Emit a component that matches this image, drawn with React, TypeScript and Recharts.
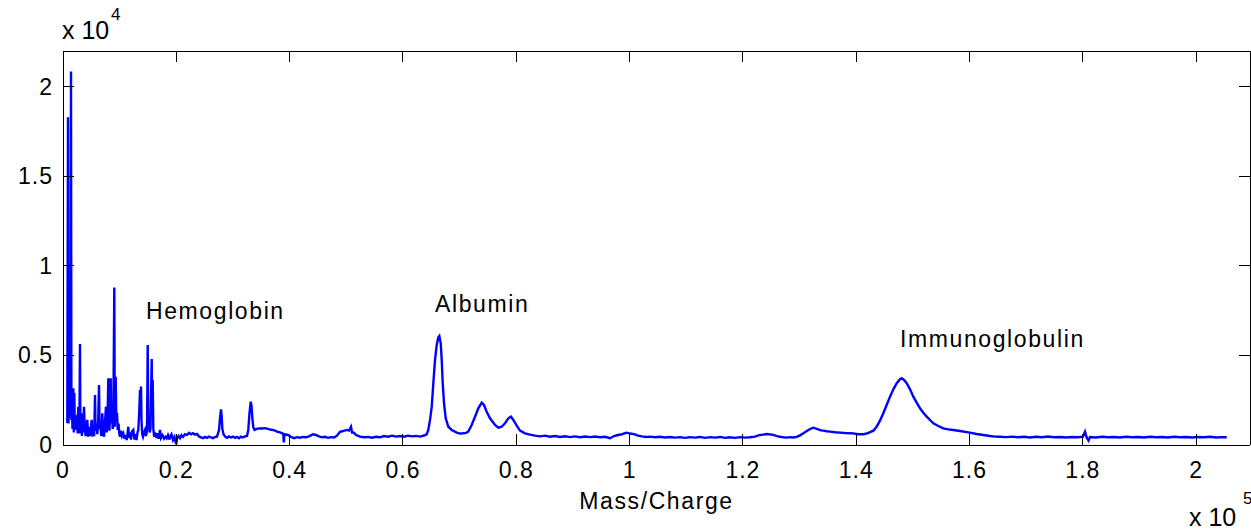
import React from 'react';
import { LineChart, Line, XAxis, YAxis, ReferenceDot } from 'recharts';

// mass/charge vs intensity
const lowMassPeaks = [
  [759, 1230], [883, 18300], [971, 1200], [1059, 8000], [1112, 8480], [1183, 3500],
  [1271, 6500], [1324, 1500], [1412, 20860], [1483, 1400], [1589, 1900], [1677, 900],
  [1818, 3170], [1906, 700], [1995, 2900], [2083, 1000], [2206, 1700], [2330, 840],
  [2471, 1500], [2595, 650], [2700, 2140], [2789, 650], [2895, 1100], [3000, 5640],
  [3071, 650], [3212, 1200], [3354, 500], [3477, 1770], [3583, 700], [3707, 2140],
  [3848, 900], [4007, 500], [4148, 1100], [4290, 1400], [4448, 460], [4589, 1000],
  [4730, 500], [4889, 900], [5066, 1400], [5207, 460], [5366, 1000], [5507, 500],
  [5648, 2790], [5754, 800], [5913, 1210], [6054, 600], [6213, 1300], [6354, 3350],
  [6460, 900], [6619, 1100], [6760, 500], [6936, 1770], [7077, 700], [7237, 460],
  [7413, 1300], [7590, 2140], [7730, 700], [7872, 1600], [7995, 3725], [8084, 1400],
  [8207, 800], [8419, 3725], [8525, 1200], [8649, 1955], [8772, 900], [8878, 1230],
  [9054, 8790], [9142, 1020], [9302, 3816], [9407, 1400], [9531, 1800], [9655, 840],
  [9796, 1200], [9937, 650], [10060, 460], [10240, 800], [10420, 500], [10640, 650],
  [10860, 350], [11030, 550], [11240, 280], [11380, 600], [11530, 1020], [11650, 400],
  [11830, 700], [12000, 300], [12180, 750], [12410, 840], [12620, 300], [12800, 600],
  [12970, 280], [13150, 700], [13290, 840], [13450, 1800], [13590, 3070], [13680, 2500],
  [13770, 3260], [13850, 1400], [13980, 600], [14120, 460], [14300, 700], [14470, 840],
  [14650, 500], [14830, 800], [14950, 5590], [15060, 1200], [15180, 1580], [15300, 700],
  [15440, 900], [15660, 4800], [15740, 2000], [15830, 3630], [15940, 900], [16100, 460],
  [16240, 700], [16500, 400], [16680, 650], [16890, 350], [17120, 840], [17300, 400],
  [17560, 550], [17830, 350], [18090, 460], [18300, 370], [18530, 550], [18800, 300],
];

const hemoglobinRange = [
  [18890, 460], [19150, 600], [19420, 280], [19680, 450], [19860, 180], [19980, 50],
  [20120, 350], [20390, 500], [20650, 380], [20910, 550], [21180, 450], [21530, 600],
  [21890, 560], [22240, 680], [22590, 600], [22950, 660], [23300, 580], [23650, 620],
  [24000, 480], [24360, 430], [24710, 380], [25060, 450], [25420, 400], [25770, 470],
  [26120, 420], [26480, 380], [26830, 450], [27180, 470], [27540, 840], [27710, 1500],
  [27890, 1990], [28010, 1600], [28120, 900], [28330, 600], [28590, 480], [28950, 400],
  [29300, 480], [29650, 420], [30000, 470], [30360, 400], [30710, 450], [31060, 380],
  [31420, 470], [31770, 420], [32120, 480], [32470, 500], [32700, 840], [32920, 1800],
  [33130, 2420], [33270, 2200], [33420, 1500], [33580, 1000], [33810, 840], [34160, 900],
  [34590, 930], [35120, 920], [35650, 940], [36180, 900], [36710, 850], [37240, 830],
  [37770, 750], [38300, 700], [38880, 620], [38970, 150], [39090, 600], [39710, 560],
  [40240, 450], [40770, 380], [41300, 440], [41830, 410], [42360, 450], [42890, 430],
  [43420, 480], [44130, 600], [44650, 560], [45180, 480], [45710, 430], [46240, 460],
  [46770, 400], [47300, 440], [47830, 420], [48360, 520], [48890, 740], [49420, 780],
  [50070, 840], [50480, 800], [50830, 1020], [51010, 700], [51270, 700], [51710, 560],
  [52420, 470], [53130, 430], [53830, 450], [54540, 410], [55240, 460], [55950, 430],
];

const albuminRange = [
  [56660, 500], [57360, 460], [58070, 520], [58770, 470], [59480, 500], [60190, 460],
  [60890, 520], [61600, 480], [62300, 510], [63010, 470], [63720, 530], [64190, 600],
  [64470, 840], [64780, 1400], [65080, 2140], [65360, 3450], [65660, 4750], [65960, 5590],
  [66240, 6020], [66420, 6090], [66670, 5680], [66840, 4750], [67020, 3450], [67250, 2330],
  [67550, 1490], [68010, 1020], [68610, 840], [69490, 690], [70070, 640], [70650, 654],
  [71130, 680], [71530, 745], [72130, 1120], [72720, 1580], [73300, 2050], [73900, 2365],
  [74300, 2235], [74780, 1860], [75360, 1490], [76250, 1120], [76830, 970], [77430, 1020],
  [78010, 1210], [78600, 1490], [79070, 1580], [79480, 1400], [80080, 1080], [80660, 800],
  [81540, 654], [82430, 580], [83310, 520], [84190, 480], [85070, 520], [85960, 460],
  [86840, 500], [87720, 450], [88600, 490], [89490, 440], [90370, 480], [91250, 430],
  [92130, 470], [93020, 440], [93900, 470], [94780, 430], [95660, 460], [96550, 380],
  [97250, 500], [97960, 560], [98660, 600], [99490, 690], [100080, 640], [100780, 610],
  [101490, 520], [102190, 480], [102900, 450], [103610, 470], [104490, 430], [105370, 460],
  [106250, 420], [107140, 450], [108020, 410], [108900, 440],
];

const middleRange = [
  [109780, 400], [110670, 440], [111550, 410], [112430, 450], [113310, 400], [114200, 440],
  [115080, 410], [115960, 450], [116840, 400], [117730, 430], [118610, 400], [119490, 440],
  [120370, 410], [121250, 430], [122140, 470], [123020, 560], [123550, 580], [124200, 615],
  [124790, 590], [125370, 560], [126020, 500], [126550, 460], [127140, 430], [127790, 410],
  [128320, 440], [128850, 420], [129500, 450], [130080, 540], [130670, 654], [131140, 750],
  [131550, 838], [132030, 920], [132430, 968], [132910, 920], [133300, 875], [133780, 820],
  [134190, 800], [134790, 770], [135380, 745], [136260, 710], [137140, 690], [138020, 670],
  [138910, 660], [139490, 650], [140320, 600], [141260, 600], [142090, 660], [142620, 745],
];

const immunoglobulinRange = [
  [143020, 800], [143600, 1022], [144190, 1360], [144780, 1770], [145370, 2235], [145970, 2700],
  [146550, 3110], [147150, 3447], [147730, 3670], [148030, 3725], [148440, 3630], [148910, 3447],
  [149500, 3110], [150080, 2700], [150670, 2365], [151260, 2048], [151840, 1806], [152440, 1583],
  [153020, 1397], [153610, 1210], [154490, 1060], [155370, 930], [156260, 875], [157140, 838],
  [158320, 782], [159790, 708], [161270, 615], [162440, 559], [163620, 503], [164500, 470],
];

const highMassTail = [
  [165380, 464], [166440, 440], [167500, 470], [168560, 430], [169620, 460], [170680, 420],
  [171730, 460], [172790, 430], [173850, 470], [174910, 430], [175970, 450], [177030, 420],
  [178090, 450], [179150, 430], [180030, 470], [180380, 745], [180680, 420], [181000, 250],
  [181260, 440], [182320, 420], [183380, 460], [184440, 430], [185500, 450], [186560, 420],
  [187620, 460], [188680, 430], [189740, 450], [190800, 420], [191860, 460], [192910, 430],
  [193970, 450], [195030, 420], [196090, 460], [197150, 430], [198210, 450], [199270, 420],
  [200330, 450], [201390, 430], [202450, 460], [203510, 420], [204570, 440], [205390, 430],
];

const xTicks = [0, 20000, 40000, 60000, 80000, 100000, 120000, 140000, 160000, 180000, 200000];
const yTicks = [0, 5000, 10000, 15000, 20000];

const annotations = [
  { text: 'Hemoglobin', mz: 14650, intensity: 7040 },
  { text: 'Albumin', mz: 65660, intensity: 7430 },
  { text: 'Immunoglobulin', mz: 147730, intensity: 5475 },
];

const spectrum = [
  ...lowMassPeaks,
  ...hemoglobinRange,
  ...albuminRange,
  ...middleRange,
  ...immunoglobulinRange,
  ...highMassTail,
].map(([mz, intensity]) => ({ mz, intensity }));

const font = "'Liberation Sans', Arial, Helvetica, sans-serif";
const lineStyle = { stroke: '#000', strokeWidth: 1, shapeRendering: 'crispEdges' };
const TICK = 11; // matlab-style inward ticks
const X_GAP = 17;
const Y_GAP = 10;

const fmt = (v: number, scale: number) => String(Number((v / scale).toFixed(1)));

// tick renderers draw the inward tick plus the label
const BottomTick = (p: any) => {
  const axisY = p.y - X_GAP;
  return (
    <g>
      <line x1={p.x} x2={p.x} y1={axisY} y2={axisY - TICK} {...lineStyle} />
      <text x={p.x} y={p.y + 16} textAnchor="middle" fontFamily={font} fontSize={23} letterSpacing={1} fill="#000">
        {fmt(p.payload.value, 1e5)}
      </text>
    </g>
  );
};

const LeftTick = (p: any) => {
  const axisX = p.x + Y_GAP;
  return (
    <g>
      <line x1={axisX} x2={axisX + TICK} y1={p.y} y2={p.y} {...lineStyle} />
      <text x={p.x} y={p.y + 8} textAnchor="end" fontFamily={font} fontSize={23} letterSpacing={1} fill="#000">
        {fmt(p.payload.value, 1e4)}
      </text>
    </g>
  );
};

const TopTick = (p: any) => <line x1={p.x} x2={p.x} y1={p.y} y2={p.y + TICK} {...lineStyle} />;
const RightTick = (p: any) => <line x1={p.x - TICK} x2={p.x} y1={p.y} y2={p.y} {...lineStyle} />;

const App = () => {
  return (
    <div style={{ position: 'absolute', left: 0, top: 0, background: '#fff' }}>
      <LineChart
        width={1251}
        height={532}
        data={spectrum}
        margin={{ top: 50, right: 0, bottom: 0, left: 0 }}
      >
        <XAxis
          dataKey="mz"
          type="number"
          domain={[0, 209500]}
          allowDataOverflow
          ticks={xTicks}
          interval={0}
          height={87}
          tickSize={0}
          tickMargin={X_GAP}
          tick={<BottomTick />}
          axisLine={lineStyle}
          tickLine={false}
          label={{
            content: ({ viewBox }: any) => {
              const vb = viewBox || { x: 63, y: 445, width: 1187, height: 87 };
              return (
                <g fontFamily={font} fill="#000">
                  <text x={vb.x + vb.width / 2} y={vb.y + 64} textAnchor="middle" fontSize={23} letterSpacing={1.6}>
                    Mass/Charge
                  </text>
                  <text x={vb.x + vb.width - 61} y={vb.y + 81} fontSize={25}>
                    x 10
                  </text>
                  <text x={vb.x + vb.width - 7} y={vb.y + 59} fontSize={17}>
                    5
                  </text>
                </g>
              );
            },
          }}
        />
        <XAxis
          xAxisId="top"
          dataKey="mz"
          orientation="top"
          type="number"
          domain={[0, 209500]}
          allowDataOverflow
          ticks={xTicks}
          interval={0}
          height={1}
          tickSize={0}
          tickMargin={0}
          tick={<TopTick />}
          axisLine={lineStyle}
          tickLine={false}
        />
        <YAxis
          type="number"
          domain={[0, 22000]}
          allowDataOverflow
          ticks={yTicks}
          interval={0}
          width={63}
          tickSize={0}
          tickMargin={Y_GAP}
          tick={<LeftTick />}
          axisLine={lineStyle}
          tickLine={false}
          label={{
            content: ({ viewBox }: any) => {
              const vb = viewBox || { x: 0, y: 51, width: 63, height: 394 };
              return (
                <g fontFamily={font} fill="#000">
                  <text x={vb.x + vb.width - 1} y={vb.y - 12} fontSize={25}>
                    x 10
                  </text>
                  <text x={vb.x + vb.width + 48} y={vb.y - 31} fontSize={17}>
                    4
                  </text>
                </g>
              );
            },
          }}
        />
        <YAxis
          yAxisId="right"
          orientation="right"
          type="number"
          domain={[0, 22000]}
          allowDataOverflow
          ticks={yTicks}
          interval={0}
          width={1}
          tickSize={0}
          tickMargin={0}
          tick={<RightTick />}
          axisLine={lineStyle}
          tickLine={false}
        />
        <Line
          xAxisId="top"
          yAxisId="right"
          type="linear"
          dataKey="intensity"
          stroke="none"
          dot={false}
          activeDot={false}
          legendType="none"
          isAnimationActive={false}
        />
        <Line
          type="linear"
          dataKey="intensity"
          stroke="#0000ff"
          strokeWidth={2.4}
          strokeLinejoin="miter"
          dot={false}
          isAnimationActive={false}
        />
        {annotations.map((a) => (
          <ReferenceDot
            key={a.text}
            x={a.mz}
            y={a.intensity}
            r={0}
            shape={(p: any) => (
              <text x={p.cx} y={p.cy} fontFamily={font} fontSize={23} letterSpacing={1.6} fill="#000">
                {a.text}
              </text>
            )}
          />
        ))}
      </LineChart>
    </div>
  );
};

export default App;
